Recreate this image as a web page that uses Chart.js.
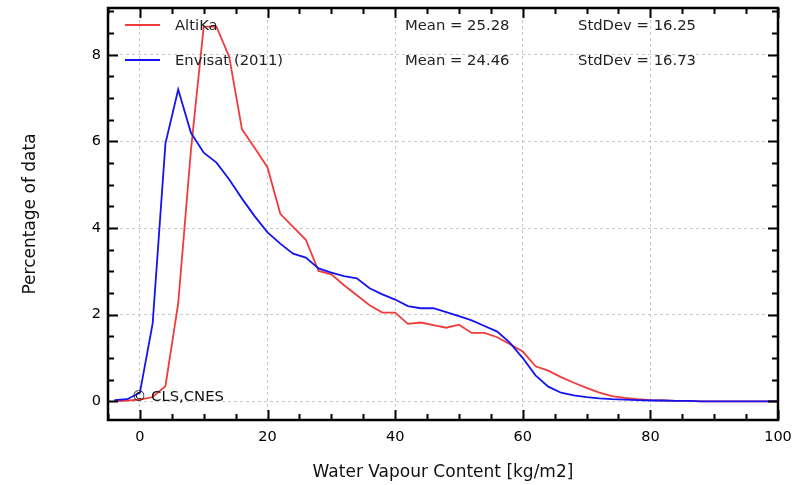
<!DOCTYPE html>
<html>
<head>
<meta charset="utf-8">
<script src="https://cdn.jsdelivr.net/npm/chart.js@4/dist/chart.umd.min.js"></script>
<style>
  html, body { margin: 0; padding: 0; background: #fff; }
  #wrap { width: 806px; height: 485px; }
</style>
</head>
<body>
<div id="wrap"><canvas id="wvChart" width="806" height="485"></canvas></div>
<script>
// --- Data ---
const waterVapour = [-4, -2, 0, 2, 4, 6, 8, 10, 12, 14, 16, 18, 20, 22, 24, 26, 28, 30, 32, 34, 36, 38, 40,
    42, 44, 46, 48, 50, 52, 54, 56, 58, 60, 62, 64, 66, 68, 70, 72, 74, 76, 78, 80, 82, 84, 86, 88, 90,
    92, 94, 96, 98, 100];
const altika = [0.00, 0.02, 0.04, 0.10, 0.35, 2.26, 5.80, 8.65, 8.65, 7.95, 6.28, 5.85, 5.40, 4.33, 4.03,
    3.73, 3.01, 2.93, 2.68, 2.45, 2.22, 2.05, 2.05, 1.79, 1.82, 1.76, 1.70, 1.77, 1.58, 1.58, 1.48, 1.32,
    1.15, 0.81, 0.71, 0.56, 0.43, 0.31, 0.20, 0.12, 0.08, 0.05, 0.03, 0.02, 0.01, 0.01, 0.00, 0.00, 0.00,
    0.00, 0.00, 0.00, 0.00];
const envisat = [0.03, 0.05, 0.20, 1.80, 5.95, 7.20, 6.20, 5.74, 5.51, 5.12, 4.68, 4.27, 3.90, 3.64, 3.41,
    3.32, 3.07, 2.97, 2.89, 2.84, 2.61, 2.47, 2.35, 2.20, 2.15, 2.15, 2.06, 1.97, 1.87, 1.74, 1.61, 1.35,
    1.00, 0.60, 0.34, 0.20, 0.14, 0.10, 0.07, 0.05, 0.04, 0.03, 0.02, 0.02, 0.01, 0.01, 0.00, 0.00, 0.00,
    0.00, 0.00, 0.00, 0.00];

const seriesNames = ['AltiKa', 'Envisat (2011)'];
const seriesMeans = ['Mean = 25.28', 'Mean = 24.46'];
const seriesStdDevs = ['StdDev = 16.25', 'StdDev = 16.73'];

const xTicks = [0, 20, 40, 60, 80, 100];
const yTicks = [0, 2, 4, 6, 8];
const xMinorStep = 5;
const yMinorStep = 0.5;

const creditText = '\u00A9 CLS,CNES';

const RED = '#f03c3c';
const BLUE = '#1414f0';
const FONT = "'DejaVu Sans', sans-serif";

const toPoints = (ys) => waterVapour.map((x, i) => ({ x, y: ys[i] }));

// frame, inward ticks, legend and credit
const decorations = {
    id: 'decorations',
    afterDraw(chart) {
        const { ctx, chartArea: ca } = chart;
        const xs = chart.scales.x;
        const ys = chart.scales.y;
        ctx.save();

        // ticks on all four sides
        ctx.strokeStyle = '#000';
        const drawTicks = (vals, len, width) => {
            ctx.lineWidth = width;
            ctx.beginPath();
            vals.x.forEach(v => {
                const px = Math.round(xs.getPixelForValue(v)) + 0.5;
                ctx.moveTo(px, ca.bottom); ctx.lineTo(px, ca.bottom - len);
                ctx.moveTo(px, ca.top); ctx.lineTo(px, ca.top + len);
            });
            vals.y.forEach(v => {
                const py = Math.round(ys.getPixelForValue(v)) + 0.5;
                ctx.moveTo(ca.left, py); ctx.lineTo(ca.left + len, py);
                ctx.moveTo(ca.right, py); ctx.lineTo(ca.right - len, py);
            });
            ctx.stroke();
        };
        const minorX = [], minorY = [];
        for (let v = Math.ceil(xs.min / xMinorStep) * xMinorStep; v <= xs.max; v += xMinorStep) {
            if (!xTicks.includes(v)) minorX.push(v);
        }
        for (let v = Math.ceil(ys.min / yMinorStep) * yMinorStep; v <= ys.max; v += yMinorStep) {
            if (!yTicks.includes(v)) minorY.push(v);
        }
        drawTicks({ x: minorX, y: minorY }, 6, 2);
        drawTicks({ x: xTicks, y: yTicks }, 10, 2);

        // frame
        ctx.lineWidth = 2.5;
        ctx.strokeRect(ca.left, ca.top, ca.right - ca.left, ca.bottom - ca.top);

        // legend
        const rows = [ca.top + 17, ca.top + 52];
        const colors = [RED, BLUE];
        ctx.font = `14.8px ${FONT}`;
        ctx.textBaseline = 'middle';
        ctx.textAlign = 'left';
        rows.forEach((y, i) => {
            ctx.strokeStyle = colors[i];
            ctx.lineWidth = 1.8;
            ctx.beginPath();
            ctx.moveTo(ca.left + 17, y);
            ctx.lineTo(ca.left + 52, y);
            ctx.stroke();
            ctx.fillStyle = '#222';
            ctx.fillText(seriesNames[i], ca.left + 67, y + 1);
            ctx.fillText(seriesMeans[i], ca.left + 297, y + 1);
            ctx.fillText(seriesStdDevs[i], ca.left + 470, y + 1);
        });

        // credit
        ctx.fillStyle = '#111';
        ctx.fillText(creditText, xs.getPixelForValue(-1.3), ys.getPixelForValue(0.1));

        ctx.restore();
    }
};

new Chart(document.getElementById('wvChart'), {
    type: 'line',
    data: {
        datasets: [
            {
                label: seriesNames[0],
                data: toPoints(altika),
                borderColor: RED,
                borderWidth: 1.8,
                pointRadius: 0,
                tension: 0,
                order: 1
            },
            {
                label: seriesNames[1],
                data: toPoints(envisat),
                borderColor: BLUE,
                borderWidth: 1.8,
                pointRadius: 0,
                tension: 0,
                order: 0
            }
        ]
    },
    options: {
        responsive: false,
        animation: false,
        devicePixelRatio: 1,
        layout: { padding: { top: 8, right: 28, left: 0, bottom: 0 } },
        plugins: { legend: { display: false }, tooltip: { enabled: false } },
        scales: {
            x: {
                type: 'linear',
                min: -5,
                max: 100,
                afterBuildTicks: (scale) => { scale.ticks = xTicks.map(v => ({ value: v })); },
                afterFit: (scale) => { scale.height = 65; scale.paddingLeft = 0; scale.paddingRight = 0; },
                ticks: { color: '#000', font: { family: FONT, size: 14.5 }, padding: 9, maxRotation: 0 },
                grid: { color: '#c8c8c8', lineWidth: 1, drawTicks: false },
                border: { display: false, dash: [3, 3] },
                title: {
                    display: true,
                    text: 'Water Vapour Content [kg/m2]',
                    color: '#111',
                    font: { family: FONT, size: 17 },
                    padding: { top: 0, bottom: 2 }
                }
            },
            y: {
                type: 'linear',
                min: -0.43,
                max: 9.08,
                afterBuildTicks: (scale) => { scale.ticks = yTicks.map(v => ({ value: v })); },
                afterFit: (scale) => { scale.width = 108; scale.paddingTop = 0; scale.paddingBottom = 0; },
                ticks: { color: '#000', font: { family: FONT, size: 14.5 }, padding: 7 },
                grid: { color: '#c8c8c8', lineWidth: 1, drawTicks: false },
                border: { display: false, dash: [3, 3] },
                title: {
                    display: true,
                    text: 'Percentage of data',
                    color: '#111',
                    font: { family: FONT, size: 17 },
                    padding: { top: 20, bottom: 0 }
                }
            }
        }
    },
    plugins: [decorations]
});
</script>
</body>
</html>
